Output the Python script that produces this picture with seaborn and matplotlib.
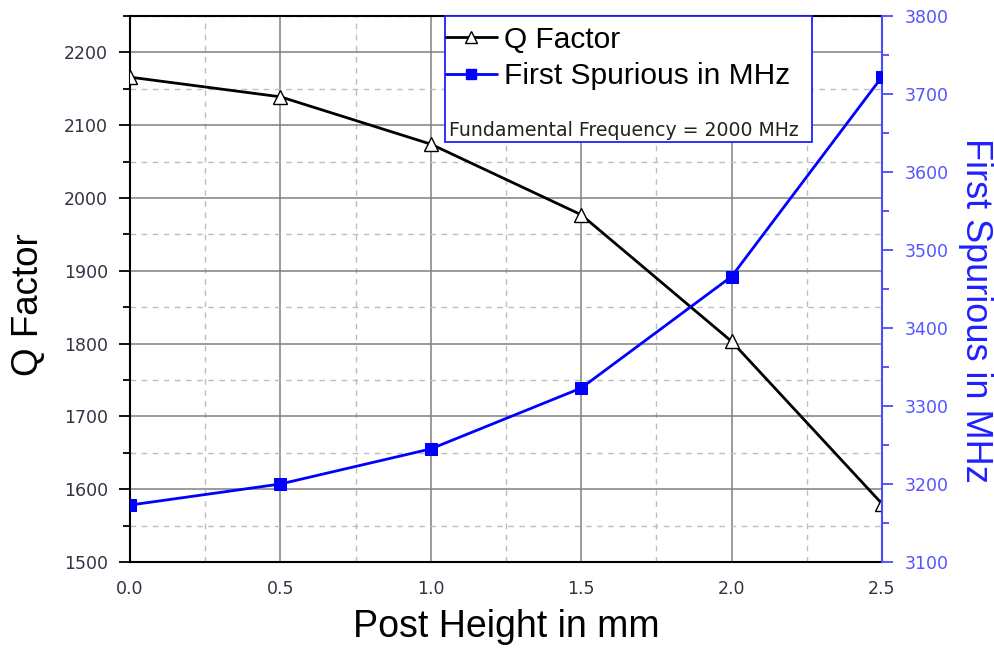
import matplotlib
matplotlib.use("Agg")
import matplotlib.pyplot as plt
import seaborn as sns
import pandas as pd
from matplotlib.ticker import MultipleLocator, FormatStrFormatter
from matplotlib.patches import Rectangle
from matplotlib.lines import Line2D

post_height = [0.0, 0.5, 1.0, 1.5, 2.0, 2.5]
q_factor = [2166, 2139, 2074, 1977, 1803, 1580]
first_spurious = [3173, 3200, 3245, 3323, 3466, 3722]

sns.set_style("white")
plt.rcParams['font.family'] = ['Liberation Sans', 'DejaVu Sans']

df = pd.DataFrame({"h": post_height, "q": q_factor, "s": first_spurious})

fig = plt.figure(figsize=(9.95, 6.5), dpi=100)
ax = fig.add_axes([130/995, 88/650, 752/995, 546/650])
ax2 = ax.twinx()

sns.lineplot(data=df, x="h", y="q", ax=ax, color="black", lw=2,
             marker="^", markersize=10, markerfacecolor="white",
             markeredgecolor="black", markeredgewidth=1, zorder=5)
sns.lineplot(data=df, x="h", y="s", ax=ax2, color="#0000ff", lw=2,
             marker="s", markersize=8, markerfacecolor="#0000ff",
             markeredgecolor="#0000ff", zorder=5)

ax.set_xlim(0, 2.5)
ax.set_ylim(1500, 2250)
ax2.set_ylim(3100, 3800)

ax.xaxis.set_major_locator(MultipleLocator(0.5))
ax.xaxis.set_minor_locator(MultipleLocator(0.25))
ax.xaxis.set_major_formatter(FormatStrFormatter("%.1f"))
ax.yaxis.set_major_locator(MultipleLocator(100))
ax.yaxis.set_minor_locator(MultipleLocator(50))
ax2.yaxis.set_major_locator(MultipleLocator(100))
ax2.yaxis.set_minor_locator(MultipleLocator(50))

ax.grid(True, which="major", color="#808080", lw=1.1, ls="-")
ax.grid(True, which="minor", color="#bdbdbd", lw=1.0, ls=(0, (4, 4)))
ax.set_axisbelow(True)

for s in ["left", "bottom", "top"]:
    ax.spines[s].set_color("black")
    ax.spines[s].set_linewidth(1.5)
ax.spines["right"].set_visible(False)
for s in ["left", "bottom", "top"]:
    ax2.spines[s].set_visible(False)
ax2.spines["right"].set_color("#4a4aff")
ax2.spines["right"].set_linewidth(1.5)

tick_font = "DejaVu Sans"
ax.tick_params(axis="both", which="major", direction="out", length=8, width=1.3,
               colors="black", labelsize=12.5, labelcolor="#333344")
ax.tick_params(axis="both", which="minor", direction="out", length=5, width=1.3, colors="black")
ax.tick_params(axis="x", which="both", top=False)
ax.tick_params(axis="x", pad=5)
ax.tick_params(axis="y", pad=8)
ax2.tick_params(axis="y", which="major", direction="out", length=8, width=1.3,
                colors="#4a4aff", labelsize=12.5, labelcolor="#5555ff", pad=8)
ax2.tick_params(axis="y", which="minor", direction="out", length=5, width=1.3, colors="#4a4aff")
for lab in ax.get_xticklabels() + ax.get_yticklabels() + ax2.get_yticklabels():
    lab.set_fontfamily(tick_font)

ax.set_xlabel("Post Height in mm", fontsize=27, color="black", labelpad=8)
ax.set_ylabel("Q Factor", fontsize=26.5, color="black")
ax.yaxis.set_label_coords(-0.112, 0.471)
ax2.set_ylabel("First Spurious in MHz", fontsize=26, color="#2020ff",
               rotation=270, va="center", ha="center", rotation_mode="anchor")
ax2.yaxis.set_label_coords(1.1237, 0.46)

# legend box
box = Rectangle((0.419, 0.769), 0.488, 0.231, transform=ax.transAxes,
                facecolor="white", edgecolor="#2020ff", lw=1.3, zorder=10,
                clip_on=False)
ax2.add_patch(box)
handles = [
    Line2D([], [], color="black", lw=2, marker="^", markersize=8,
           markerfacecolor="white", markeredgecolor="black"),
    Line2D([], [], color="#0000ff", lw=2, marker="s", markersize=7,
           markerfacecolor="#0000ff"),
]
leg = ax2.legend(handles, ["Q Factor", "First Spurious in MHz"],
                 loc="upper left", bbox_to_anchor=(0.420, 0.982),
                 frameon=False, fontsize=21.5, handlelength=1.7,
                 handletextpad=0.25, labelspacing=0.28, borderpad=0,
                 borderaxespad=0)
leg.set_zorder(11)
for t in leg.get_texts():
    t.set_color("black")
ax2.text(0.424, 0.790, "Fundamental Frequency = 2000 MHz", transform=ax.transAxes,
         fontsize=13.6, fontfamily="DejaVu Sans", color="#222222", zorder=12,
         va="center", ha="left")

fig.savefig("out.png", dpi=100)
